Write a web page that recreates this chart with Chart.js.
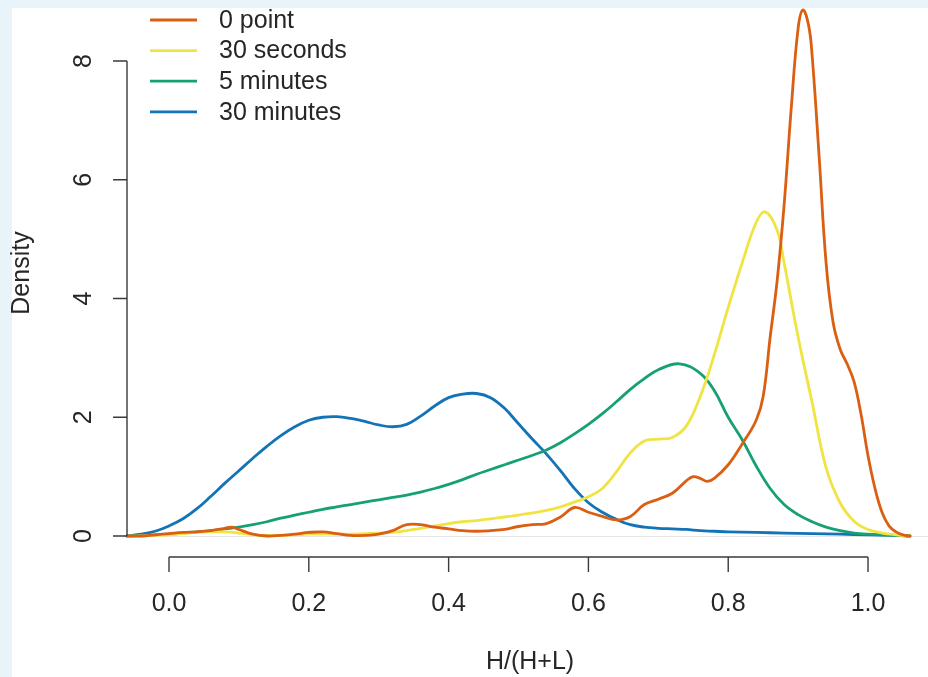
<!DOCTYPE html>
<html><head><meta charset="utf-8">
<script src="https://cdn.jsdelivr.net/npm/chart.js@4/dist/chart.umd.min.js"></script>
<style>html,body{margin:0;padding:0;background:#e8f3fa;overflow:hidden}canvas{display:block}</style>
</head><body>
<canvas id="c" width="928" height="677"></canvas>
<script>
// ---- data ----
const seriesNames = ["0 point", "30 seconds", "5 minutes", "30 minutes"];
const seriesColors = ["#DA5F12", "#F0E442", "#16A075", "#1274B6"];

const orangeX = [-0.06,-0.04,-0.02,0.00,0.02,0.04,0.06,0.08,0.09,0.10,0.12,0.14,0.16,0.18,0.20,0.22,0.24,0.26,0.28,0.30,0.32,0.34,0.36,0.38,0.40,0.42,0.44,0.46,0.48,0.50,0.52,0.54,0.56,0.58,0.60,0.62,0.64,0.66,0.68,0.70,0.72,0.74,0.75,0.76,0.77,0.78,0.80,0.82,0.84,0.85,0.86,0.87,0.88,0.89,0.90,0.907,0.915,0.92,0.93,0.94,0.95,0.96,0.97,0.98,0.99,1.00,1.01,1.02,1.03,1.04,1.05,1.06];
const orangeY = [0,0,0.02,0.04,0.06,0.07,0.09,0.13,0.15,0.11,0.03,0.00,0.01,0.03,0.06,0.07,0.04,0.01,0.01,0.03,0.09,0.19,0.19,0.15,0.12,0.09,0.08,0.09,0.11,0.16,0.19,0.21,0.32,0.48,0.40,0.33,0.27,0.33,0.53,0.62,0.72,0.93,1.00,0.97,0.92,0.97,1.20,1.55,1.95,2.35,3.35,4.30,5.58,7.18,8.55,8.86,8.60,8.10,6.40,4.60,3.60,3.15,2.90,2.60,2.05,1.35,0.80,0.40,0.17,0.07,0.02,0];

const yellowX = [-0.06,-0.04,-0.02,0.00,0.02,0.04,0.06,0.08,0.10,0.12,0.14,0.16,0.18,0.20,0.22,0.24,0.26,0.28,0.30,0.32,0.34,0.36,0.38,0.40,0.42,0.44,0.46,0.48,0.50,0.52,0.54,0.56,0.58,0.60,0.62,0.64,0.66,0.68,0.70,0.72,0.74,0.76,0.78,0.80,0.82,0.84,0.853,0.87,0.88,0.90,0.92,0.94,0.96,0.98,1.00,1.02,1.04,1.06];
const yellowY = [0,0,0.01,0.02,0.04,0.06,0.07,0.07,0.05,0.02,0.01,0.01,0.02,0.03,0.03,0.03,0.03,0.04,0.05,0.06,0.09,0.13,0.17,0.21,0.24,0.26,0.29,0.32,0.35,0.39,0.43,0.49,0.57,0.66,0.80,1.08,1.40,1.60,1.63,1.66,1.85,2.35,3.05,3.85,4.60,5.28,5.46,5.15,4.60,3.35,2.25,1.15,0.56,0.25,0.11,0.05,0.02,0];

const greenX = [-0.06,-0.04,-0.02,0.00,0.02,0.04,0.06,0.08,0.10,0.12,0.14,0.16,0.18,0.20,0.22,0.24,0.26,0.28,0.30,0.32,0.34,0.36,0.38,0.40,0.42,0.44,0.46,0.48,0.50,0.52,0.54,0.56,0.58,0.60,0.62,0.64,0.66,0.68,0.70,0.73,0.76,0.78,0.80,0.82,0.84,0.86,0.88,0.90,0.92,0.94,0.96,0.98,1.00,1.02,1.04,1.06];
const greenY = [0,0.01,0.02,0.03,0.05,0.07,0.09,0.12,0.15,0.19,0.24,0.30,0.35,0.40,0.45,0.49,0.53,0.57,0.61,0.65,0.69,0.74,0.80,0.87,0.95,1.04,1.12,1.20,1.28,1.36,1.45,1.57,1.72,1.88,2.06,2.26,2.47,2.65,2.80,2.90,2.74,2.45,2.00,1.62,1.18,0.80,0.53,0.36,0.24,0.15,0.09,0.05,0.03,0.02,0.01,0];

const blueX = [-0.06,-0.04,-0.02,0.00,0.02,0.04,0.06,0.08,0.10,0.12,0.14,0.16,0.18,0.20,0.22,0.24,0.26,0.28,0.30,0.32,0.34,0.36,0.38,0.40,0.42,0.44,0.46,0.48,0.50,0.52,0.54,0.56,0.58,0.60,0.62,0.64,0.66,0.68,0.70,0.72,0.74,0.76,0.78,0.80,0.84,0.88,0.92,0.96,1.00,1.04,1.06];
const blueY = [0,0.03,0.08,0.17,0.29,0.46,0.67,0.89,1.10,1.31,1.51,1.69,1.84,1.95,2.00,2.01,1.98,1.93,1.87,1.84,1.88,2.02,2.19,2.33,2.39,2.40,2.33,2.15,1.89,1.63,1.38,1.10,0.80,0.56,0.40,0.28,0.19,0.15,0.13,0.12,0.11,0.09,0.08,0.07,0.06,0.05,0.04,0.03,0.02,0.01,0];

const xTicks = [0.0, 0.2, 0.4, 0.6, 0.8, 1.0];
const xTickLabels = ["0.0", "0.2", "0.4", "0.6", "0.8", "1.0"];
const yTicks = [0, 2, 4, 6, 8];
const yTickLabels = ["0", "2", "4", "6", "8"];
const xTitle = "H/(H+L)";
const yTitle = "Density";

// ---- chart ----
const FONT = '25px "Liberation Sans", Arial, Helvetica, sans-serif';
const xsAll = [orangeX, yellowX, greenX, blueX];
const ysAll = [orangeY, yellowY, greenY, blueY];

const datasets = seriesNames.map((name, k) => ({
  label: name,
  data: xsAll[k].map((x, i) => ({ x: x, y: ysAll[k][i] })),
  borderColor: seriesColors[k],
  backgroundColor: seriesColors[k],
  borderWidth: 2.8,
  pointRadius: 0,
  fill: false,
  tension: 0.4,
  borderJoinStyle: 'round',
  borderCapStyle: 'round',
  clip: false
}));

const bgPlugin = {
  id: 'bg',
  beforeDraw(chart) {
    const ctx = chart.ctx;
    ctx.save();
    ctx.fillStyle = '#e8f3fa';
    ctx.fillRect(0, 0, chart.width, chart.height);
    ctx.fillStyle = '#ffffff';
    ctx.fillRect(12, 8, chart.width - 12, chart.height - 8);
    ctx.restore();
  },
  beforeDatasetsDraw(chart) {
    const ctx = chart.ctx, ys = chart.scales.y;
    const y0 = Math.round(ys.getPixelForValue(0)) + 0.5;
    ctx.save();
    ctx.strokeStyle = '#e6e6e6';
    ctx.lineWidth = 1;
    ctx.beginPath();
    ctx.moveTo(chart.chartArea.left, y0);
    ctx.lineTo(chart.chartArea.right, y0);
    ctx.stroke();
    ctx.restore();
  },
  afterDraw(chart) {
    const ctx = chart.ctx, xs = chart.scales.x, ys = chart.scales.y;
    ctx.save();
    ctx.strokeStyle = '#3a3a3a';
    ctx.fillStyle = '#262626';
    ctx.lineWidth = 1.4;
    ctx.font = FONT;
    // y axis
    const ax = chart.chartArea.left;
    ctx.beginPath();
    ctx.moveTo(ax, ys.getPixelForValue(yTicks[0]));
    ctx.lineTo(ax, ys.getPixelForValue(yTicks[yTicks.length - 1]));
    yTicks.forEach(v => {
      const p = ys.getPixelForValue(v);
      ctx.moveTo(ax, p); ctx.lineTo(ax - 14, p);
    });
    ctx.stroke();
    ctx.textAlign = 'center';
    ctx.textBaseline = 'middle';
    yTicks.forEach((v, i) => {
      const p = ys.getPixelForValue(v);
      ctx.save();
      ctx.translate(84, p);
      ctx.rotate(-Math.PI / 2);
      ctx.fillText(yTickLabels[i], 0, 0);
      ctx.restore();
    });
    // x axis (offset below plot, R style)
    const ay = 557;
    ctx.beginPath();
    ctx.moveTo(xs.getPixelForValue(xTicks[0]), ay);
    ctx.lineTo(xs.getPixelForValue(xTicks[xTicks.length - 1]), ay);
    xTicks.forEach(v => {
      const p = xs.getPixelForValue(v);
      ctx.moveTo(p, ay); ctx.lineTo(p, ay + 15);
    });
    ctx.stroke();
    xTicks.forEach((v, i) => {
      ctx.fillText(xTickLabels[i], xs.getPixelForValue(v), 604);
    });
    // titles
    ctx.fillText(xTitle, 530, 662);
    ctx.save();
    ctx.translate(22, 273);
    ctx.rotate(-Math.PI / 2);
    ctx.fillText(yTitle, 0, 0);
    ctx.restore();
    // legend
    ctx.textAlign = 'left';
    chart.data.datasets.forEach((ds, i) => {
      const y = 20 + i * 30.6;
      ctx.strokeStyle = ds.borderColor;
      ctx.lineWidth = 2.8;
      ctx.beginPath();
      ctx.moveTo(150, y); ctx.lineTo(197, y);
      ctx.stroke();
      ctx.fillStyle = '#262626';
      ctx.fillText(ds.label, 219, y + 1);
    });
    ctx.restore();
  }
};

new Chart(document.getElementById('c'), {
  type: 'line',
  data: { datasets: datasets },
  options: {
    responsive: false,
    animation: false,
    events: [],
    layout: { padding: { left: 127, right: 0, top: 8, bottom: 117 } },
    plugins: { legend: { display: false }, tooltip: { enabled: false } },
    scales: {
      x: { type: 'linear', min: -0.0601, max: 1.0858, display: false },
      y: { type: 'linear', min: -0.4042, max: 8.8926, display: false }
    }
  },
  plugins: [bgPlugin]
});
</script>
</body></html>
